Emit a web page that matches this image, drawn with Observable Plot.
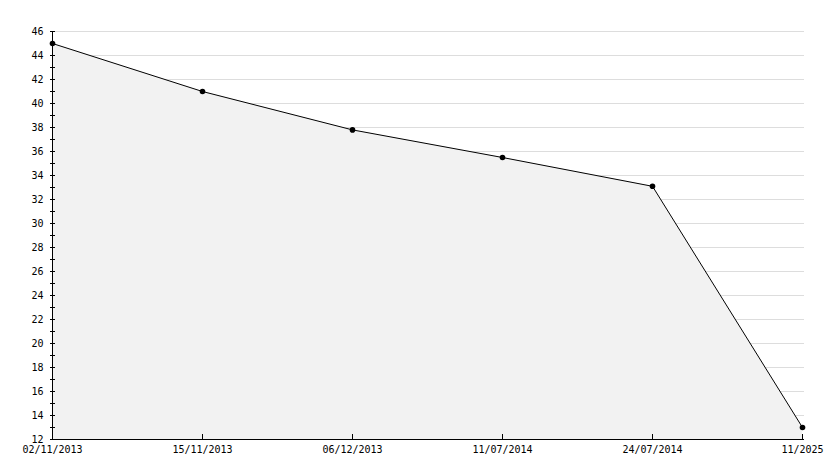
<!DOCTYPE html>
<html>
<head>
<meta charset="utf-8">
<script src="https://cdn.jsdelivr.net/npm/d3@7"></script>
<script src="https://cdn.jsdelivr.net/npm/@observablehq/plot@0.6"></script>
<style>
  html, body { margin: 0; padding: 0; background: #fff; }
  svg { display: block; }
</style>
</head>
<body>
<div id="chart"></div>
<script>
const dates = ["02/11/2013", "15/11/2013", "06/12/2013", "11/07/2014", "24/07/2014", "11/2025"];
const values = [45.0, 41.0, 37.8, 35.5, 33.1, 13.0];
const yMajorTicks = d3.range(12, 47, 2);
const yAllTicks = d3.range(12, 47, 1);
const gridTicks = d3.range(14, 47, 2);

const data = dates.map((d, i) => ({date: d, value: values[i]}));

const W = 834, H = 468, mL = 50, mR = 30, mT = 31, mB = 29;
const font = "DejaVu Sans Mono";

const chart = Plot.plot({
  width: W,
  height: H,
  marginLeft: mL,
  marginRight: mR,
  marginTop: mT,
  marginBottom: mB,
  style: {fontFamily: font, fontSize: "10px", color: "#000", background: "#fff"},
  x: {type: "point", domain: dates, padding: 0, label: null},
  y: {domain: [12, 46], label: null},
  marks: [
    Plot.ruleY(gridTicks, {stroke: "#dddddd", strokeWidth: 1}),
    Plot.areaY(data, {x: "date", y1: 12, y2: "value", fill: "#f2f2f2"}),
    Plot.line(data, {x: "date", y: "value", stroke: "#000", strokeWidth: 1}),
    Plot.dot(data, {x: "date", y: "value", r: 2.8, fill: "#000", stroke: "none"}),
    // y ticks (inward)
    Plot.ruleY(yAllTicks, {stroke: "#000", insetRight: (W - mL - mR) - 5}),
    // x ticks (inward)
    Plot.ruleX(dates, {stroke: "#000", insetTop: (H - mT - mB) - 5}),
    Plot.ruleX([dates[0]], {stroke: "#000"}),
    Plot.ruleY([12], {stroke: "#000"}),
    Plot.axisY(yMajorTicks, {tickSize: 0, tickPadding: 7, fontSize: 10, fontFamily: font, fill: "#000"}),
    Plot.axisX(dates, {tickSize: 0, tickPadding: 6, fontSize: 10, fontFamily: font, fill: "#000"})
  ]
});
document.getElementById("chart").appendChild(chart);
</script>
</body>
</html>
